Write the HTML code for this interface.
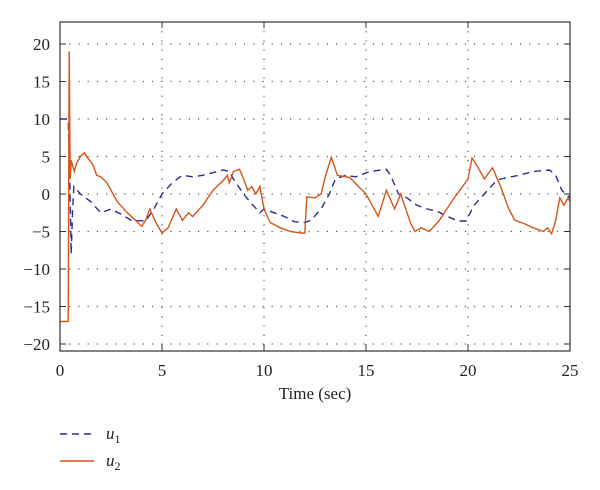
<!DOCTYPE html>
<html><head><meta charset="utf-8"><style>
body{margin:0;background:#fff;}
svg{display:block;font-family:"Liberation Serif",serif;}
</style></head><body>
<svg id="s" width="600" height="490" viewBox="0 0 600 490">
<g id="grid" stroke="#555" stroke-width="1.2" stroke-dasharray="1.2 8" fill="none"></g>
<g id="ticks" stroke="#333" stroke-width="1" fill="none"></g>
<g id="lbl" font-size="17" fill="#222"></g>
<path id="u1" fill="none" stroke="#2e2a8c" stroke-width="1.4" stroke-dasharray="7 5"/>
<path id="u2" fill="none" stroke="#d4561a" stroke-width="1.4"/>
<rect x="60" y="22" width="510" height="329" fill="none" stroke="#333" stroke-width="1.2"/>
<text x="315" y="399" font-size="17" text-anchor="middle" fill="#222">Time (sec)</text>
<line x1="60" y1="434" x2="94" y2="434" stroke="#2e2a8c" stroke-width="1.4" stroke-dasharray="7 5"/>
<text x="106" y="439" font-size="17" font-style="italic" fill="#222">u<tspan font-size="12" font-style="normal" dy="4">1</tspan></text>
<line x1="60" y1="461" x2="94" y2="461" stroke="#d4561a" stroke-width="1.4"/>
<text x="106" y="466" font-size="17" font-style="italic" fill="#222">u<tspan font-size="12" font-style="normal" dy="4">2</tspan></text>
</svg>
<script>
var X=function(t){return 60+t*20.4},Y=function(v){return 194-v*7.5};
var ns="http://www.w3.org/2000/svg";
function el(p,n,a,txt){var e=document.createElementNS(ns,n);for(var k in a)e.setAttribute(k,a[k]);if(txt!==undefined)e.textContent=txt;document.getElementById(p).appendChild(e);}
for(var t=5;t<25;t+=5){el("grid","line",{x1:X(t),y1:22,x2:X(t),y2:351});}
for(var v=-20;v<=20;v+=5){el("grid","line",{x1:60,y1:Y(v),x2:570,y2:Y(v)});}
for(var t=0;t<=25;t+=5){el("ticks","line",{x1:X(t),y1:351,x2:X(t),y2:345});el("ticks","line",{x1:X(t),y1:22,x2:X(t),y2:28});
 el("lbl","text",{x:X(t),y:376,"text-anchor":"middle"},t);}
for(var v=-20;v<=20;v+=5){el("ticks","line",{x1:60,y1:Y(v),x2:66,y2:Y(v)});el("ticks","line",{x1:570,y1:Y(v),x2:564,y2:Y(v)});
 el("lbl","text",{x:50,y:Y(v)+6,"text-anchor":"end"},v<0?"\u2212"+(-v):v);}
var u1=[[0,10],[0.4,10],[0.48,2],[0.55,-8],[0.62,-2],[0.68,1],[1,0],[1.5,-1],[2,-2.5],[2.5,-2],[3,-2.7],[3.5,-3.5],[4.2,-3.6],[4.6,-2],[5,0],[5.5,1.5],[6,2.5],[6.5,2.3],[7,2.5],[8,3.2],[8.3,3],[8.5,2],[9,0],[9.3,-1],[9.8,-2.5],[10,-2],[10.5,-2.5],[11,-3],[11.5,-3.7],[12,-3.8],[12.3,-3.5],[12.8,-2],[13.2,0],[13.5,2],[14,2.5],[14.5,2.3],[15.2,3],[16,3.3],[16.2,2.5],[16.6,0],[17,-0.5],[17.5,-1.5],[18,-2],[18.5,-2.3],[19,-3],[19.5,-3.6],[19.9,-3.6],[20.3,-1.5],[20.8,0],[21.3,1.5],[21.6,2],[22.5,2.5],[23.2,3],[24,3.2],[24.3,2.5],[24.6,0.5],[25,-0.5]];
var u2=[[0,-17],[0.4,-17],[0.45,19],[0.5,2],[0.55,4.5],[0.7,3],[0.8,4],[1,5],[1.2,5.5],[1.3,5],[1.6,4],[1.8,2.5],[2,2.3],[2.3,1.5],[2.8,-1],[3.3,-2.5],[3.7,-3.5],[4,-4.3],[4.2,-3.5],[4.4,-2],[4.7,-3.8],[5,-5.2],[5.3,-4.5],[5.7,-2],[6,-3.5],[6.3,-2.5],[6.5,-3],[7,-1.5],[7.5,0.5],[8,1.8],[8.2,2.5],[8.3,1.5],[8.5,3],[8.8,3.3],[9,2],[9.2,0.5],[9.4,1],[9.6,0],[9.8,1],[10,-2],[10.3,-3.8],[10.8,-4.5],[11.3,-5],[11.8,-5.2],[12,-5.2],[12.1,-0.4],[12.5,-0.5],[12.8,0],[13,2.3],[13.3,4.9],[13.6,2.5],[14.2,2.2],[15,0],[15.4,-2],[15.6,-3],[16,0.5],[16.4,-2],[16.7,0],[17.2,-4],[17.4,-5],[17.7,-4.5],[18.1,-5],[18.6,-3.5],[19.2,-1],[19.6,0.5],[20,2],[20.2,4.8],[20.5,3.5],[20.8,2],[21.2,3.5],[21.6,1],[22,-2],[22.3,-3.5],[22.8,-4],[23.2,-4.5],[23.7,-5],[23.9,-4.5],[24.1,-5.3],[24.3,-3.5],[24.5,-0.5],[24.7,-1.5],[24.9,-0.5],[25,-1]];
function d(a){return a.map(function(p,i){return (i?"L":"M")+X(p[0]).toFixed(1)+" "+Y(p[1]).toFixed(1)}).join("");}
document.getElementById("u1").setAttribute("d",d(u1));
document.getElementById("u2").setAttribute("d",d(u2));
</script>
</body></html>
